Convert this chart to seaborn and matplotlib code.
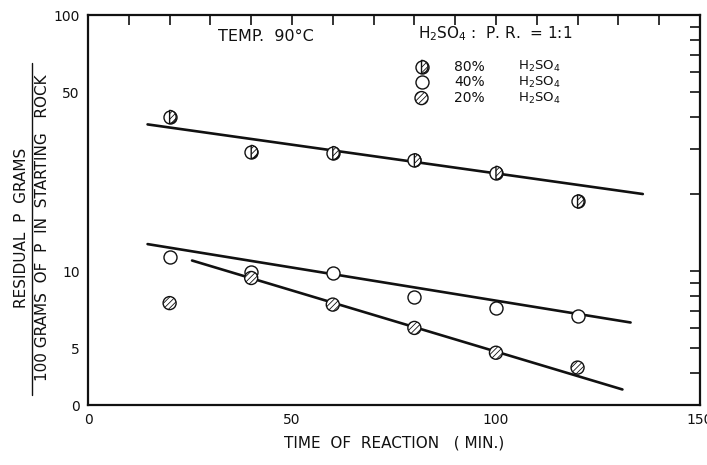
import matplotlib
matplotlib.use("Agg")
import matplotlib.pyplot as plt
from matplotlib.path import Path
from matplotlib.lines import Line2D
import seaborn as sns

# Reaction time (min) and residual P (g per 100 g P in starting rock)
time_min = [20, 40, 60, 80, 100, 120]
p_80pct = [40.0, 29.2, 28.9, 27.1, 24.2, 18.7]
p_40pct = [11.4, 9.9, 9.8, 7.9, 7.2, 6.7]
p_20pct = [7.5, 9.4, 7.4, 6.0, 4.8, 4.2]

# Straight-line fits on the semi-log plot: start and end of each line
fit80_t = [14.6, 136.0]
fit80_p = [37.4, 20.0]
fit40_t = [14.6, 133.0]
fit40_p = [12.75, 6.3]
fit20_t = [25.5, 131.0]
fit20_p = [11.0, 3.45]

y_major = [3, 5, 10, 50, 100]
y_major_labels = ["0", "5", "10", "50", "100"]
y_minor = [4, 6, 7, 8, 9, 20, 30, 40, 60, 70, 80, 90]
x_major = [0, 50, 100, 150]
x_minor = [10, 20, 30, 40, 60, 70, 80, 90, 110, 120, 130, 140]

sns.set_style("white")
plt.rcParams["font.family"] = ["DejaVu Sans"]
plt.rcParams["hatch.linewidth"] = 0.6
plt.rcParams["hatch.color"] = "black"

fig = plt.figure(figsize=(7.07, 4.65), dpi=100)
ax = fig.add_axes([0.1245, 0.129, 0.8655, 0.8387])

ink = "#111111"
line_kw = dict(color=ink, linewidth=1.9, sort=False, estimator=None,
               legend=False, ax=ax, zorder=2)
sns.lineplot(x=fit80_t, y=fit80_p, **line_kw)
sns.lineplot(x=fit40_t, y=fit40_p, **line_kw)
sns.lineplot(x=fit20_t, y=fit20_p, **line_kw)

msize = 88
half_disc = Path.wedge(-90, 90)   # right half of the circle, split by a vertical line
hatch = "//////"

# 80 % H2SO4: half-hatched circles
sns.scatterplot(x=time_min, y=p_80pct, marker="o", s=msize, facecolor="white",
                edgecolor=ink, linewidth=1.0, ax=ax, zorder=3, legend=False)
sns.scatterplot(x=time_min, y=p_80pct, marker=half_disc, s=msize, facecolor="white",
                edgecolor=ink, linewidth=1.0, hatch=hatch, ax=ax, zorder=4,
                legend=False)
# 40 % H2SO4: open circles
sns.scatterplot(x=time_min, y=p_40pct, marker="o", s=msize, facecolor="white",
                edgecolor=ink, linewidth=1.0, ax=ax, zorder=3, legend=False)
# 20 % H2SO4: hatched circles
sns.scatterplot(x=time_min, y=p_20pct, marker="o", s=msize, facecolor="white",
                edgecolor=ink, linewidth=1.0, hatch=hatch, ax=ax, zorder=4,
                legend=False)

ax.set_yscale("log")
ax.set_xlim(0, 150)
ax.set_ylim(3, 100)
ax.set_xticks(x_major)
ax.set_xticklabels([str(v) for v in x_major])
ax.set_xticks(x_minor, minor=True)
ax.set_yticks(y_major)
ax.set_yticklabels(y_major_labels)
ax.set_yticks(y_minor, minor=True)
ax.set_yticklabels([], minor=True)
ax.tick_params(axis="both", which="both", direction="in", top=True, right=True,
               length=7, width=1.2, color=ink, labelsize=10, labelcolor=ink)
ax.tick_params(axis="x", which="both", pad=6)
ax.tick_params(axis="y", which="both", pad=6)
for side in ax.spines.values():
    side.set_linewidth(1.6)
    side.set_color(ink)
ax.grid(False)

ax.set_xlabel("TIME  OF  REACTION   ( MIN.)", fontsize=11, color=ink, labelpad=6)
ax.set_ylabel("")

# Fraction-style y-axis title
fig.text(0.031, 0.51, "RESIDUAL  P  GRAMS", rotation=90, ha="center",
         va="center", fontsize=11, color=ink)
fig.text(0.060, 0.51, "100 GRAMS  OF  P  IN  STARTING   ROCK", rotation=90,
         ha="center", va="center", fontsize=11, color=ink)
fig.add_artist(Line2D([0.045, 0.045], [0.15, 0.865], transform=fig.transFigure,
                      color=ink, linewidth=1.0))

# Annotations and key
ax.text(0.212, 0.944, "TEMP.  90°C", transform=ax.transAxes, ha="left",
        va="center", fontsize=11.5, color=ink)
ax.text(0.540, 0.951, r"H$_2$SO$_4$ :  P. R.  = 1:1", transform=ax.transAxes,
        ha="left", va="center", fontsize=11, color=ink)

key_x = 0.545
key_rows = [0.867, 0.828, 0.787]
key_pct = ["80%", "40%", "20%"]
ax.scatter([key_x], [key_rows[0]], transform=ax.transAxes, marker="o", s=msize,
           facecolor="white", edgecolor=ink, linewidth=1.0, zorder=5, clip_on=False)
ax.scatter([key_x], [key_rows[0]], transform=ax.transAxes, marker=half_disc,
           s=msize, facecolor="white", edgecolor=ink, linewidth=1.0, hatch=hatch,
           zorder=6, clip_on=False)
ax.scatter([key_x], [key_rows[1]], transform=ax.transAxes, marker="o", s=msize,
           facecolor="white", edgecolor=ink, linewidth=1.0, zorder=5, clip_on=False)
ax.scatter([key_x], [key_rows[2]], transform=ax.transAxes, marker="o", s=msize,
           facecolor="white", edgecolor=ink, linewidth=1.0, hatch=hatch,
           zorder=6, clip_on=False)
for yk, pct in zip(key_rows, key_pct):
    ax.text(0.598, yk, pct, transform=ax.transAxes, ha="left", va="center",
            fontsize=10, color=ink)
    ax.text(0.703, yk, r"H$_2$SO$_4$", transform=ax.transAxes, ha="left",
            va="center", fontsize=9.5, color=ink)

fig.savefig("out.png", dpi=100, facecolor="white")
